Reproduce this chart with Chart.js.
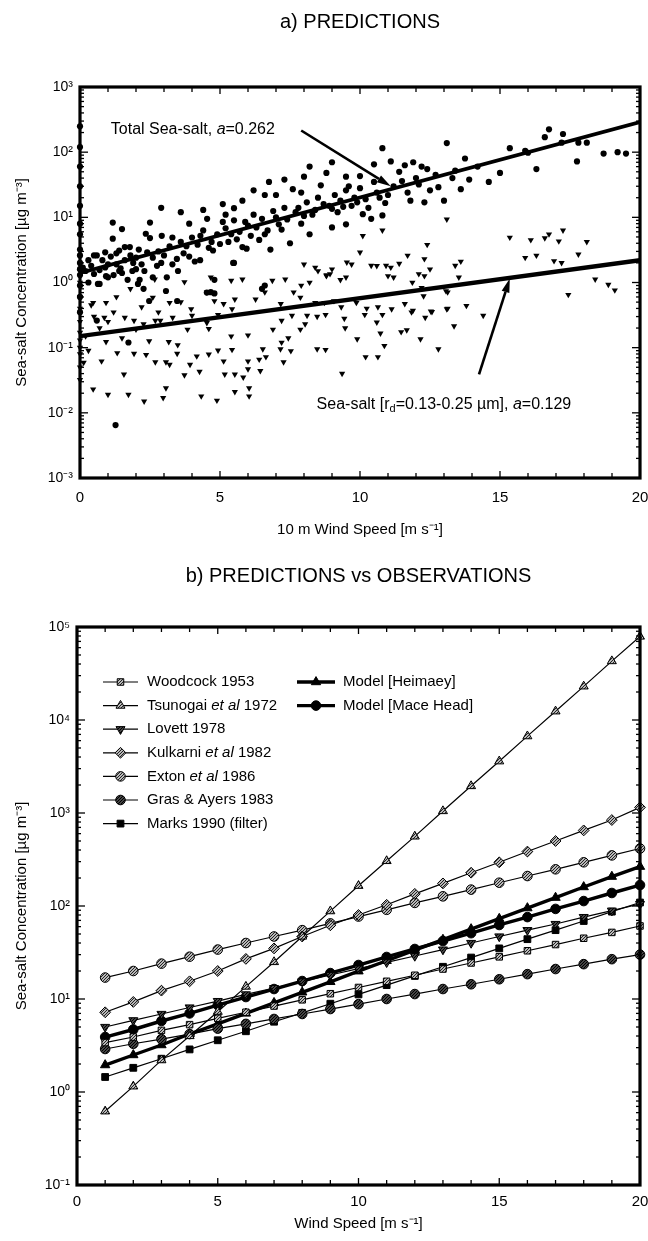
<!DOCTYPE html>
<html><head><meta charset="utf-8">
<script src="https://cdn.jsdelivr.net/npm/chart.js@4/dist/chart.umd.min.js"></script>
<style>
html,body{margin:0;padding:0;background:#fff;}
#wrap{position:relative;width:648px;height:1241px;overflow:hidden;}
.pane{position:absolute;left:0;width:648px;}
</style></head><body>
<div id="wrap">
<div class="pane" style="top:0;height:555px"><canvas id="ca" width="648" height="555"></canvas></div>
<div class="pane" style="top:555px;height:686px"><canvas id="cb" width="648" height="686"></canvas></div>
</div>
<script>
// ---------------- DATA: panel a ----------------
const xTicksA = [0, 5, 10, 15, 20];
const yTicksA = [1e-3, 1e-2, 1e-1, 1, 10, 100, 1000];
const yLabelsA = ['10⁻³', '10⁻²', '10⁻¹', '10⁰', '10¹', '10²', '10³'];
// observed total sea-salt [wind speed, concentration]
const totalObs = [
[0,1.3],[0,2.0],[0,2.6],[0,3.2],[0,0.9],[0,5.5],[0,8],[0,15],[0,30],[0,60],[0,120],[0,250],[0,0.6],[0,1.6],[0,0.35],
[0.1,1.7],[0.2,1.5],[0.3,2.2],[0.4,1.8],[0.5,2.6],[0.6,2.6],[0.7,0.95],[0.8,2.2],[0.9,1.7],[1.0,1.2],[1.1,2.5],[1.17,8.3],[1.17,4.7],
[1.3,1.9],[1.4,3.1],[1.5,6.6],[1.5,1.4],[1.6,2.2],[1.7,1.1],[1.78,3.5],[1.9,2.0],[2.0,1.6],[2.07,0.95],[2.1,3.2],[2.2,1.9],[2.35,5.6],
[2.5,8.3],[2.5,4.8],[2.6,2.4],[2.75,1.8],[2.8,3.0],[2.92,5.2],[3.0,2.6],[3.1,1.2],[3.3,4.9],[3.46,2.3],[3.5,1.5],[3.6,12],[3.7,2.8],
[3.8,3.6],[4.0,4.9],[4.1,2.1],[4.29,2.2],[4.4,6.3],[4.54,9.5],[4.6,3.4],[4.75,3.1],[4.8,1.1],[4.9,5.5],[5.1,16],[5.1,8.5],[5.2,11],
[5.3,4.2],[5.5,13.8],[5.5,9],[5.5,2.0],[5.7,6],[5.8,3.5],[5.95,3.3],[6.0,7.5],[6.2,26],[6.2,11],[6.4,4.5],[6.6,5.5],[6.75,35],
[6.8,3.2],[7.0,22],[7.0,10],[7.2,6.5],[7.3,14],[7.5,4.0],[7.6,27],[7.7,12],[7.9,24],[7.9,8],[8.1,17],[8.2,5.5],[8.3,11],[8.5,20],
[8.6,31],[8.8,48],[8.9,15],[9.0,7],[9.1,22],[9.2,12],[9.3,18],[9.5,42],[9.5,7.8],[9.5,26],[9.7,15],[9.8,20],[10.0,43],[10.0,28],
[10.1,11.2],[10.2,19],[10.4,9.5],[10.5,35],[10.6,24],[10.8,115],[10.8,10.7],[10.9,16.6],[11.1,72],[11.2,30],[11.4,50],[11.6,63],
[11.7,24],[11.8,18],[12.0,40],[12.3,17],[12.4,55],[12.5,26],[12.8,29],[13.0,18],[13.1,138],[13.4,52],[13.6,27],[13.75,80],[13.9,38],
[14.6,35],[15.35,115],[15.9,105],[16.0,98],[16.3,55],[16.6,170],[16.75,224],[17.2,140],[17.25,190],[17.75,72],[17.8,140],[18.1,140],
[18.7,95],[19.2,100],[19.5,95],
[0.6,0.26],[1.27,0.0065],[1.73,0.12],[3.07,0.74],[3.47,0.52],[2.47,0.52],[1.87,1.5],[2.13,1.1],[0.93,1.25],[0.64,0.95],[1.4,1.5],
[2.27,0.8],[4.53,0.7],[4.67,0.71],[4.8,0.68],[6.5,0.8],[6.6,0.9],[5.47,2.0],
[0.3,1.0],[0.5,1.35],[0.7,1.55],[0.9,2.9],[1.0,1.9],[1.2,1.3],[1.3,2.8],[1.45,1.65],[1.6,3.5],[1.8,2.6],[2.0,2.4],[2.3,1.5],[2.4,2.9],
[2.6,1.2],[2.9,2.0],[3.2,3.6],[3.3,1.9],[3.6,4.2],[3.9,2.5],[4.2,3.8],[4.3,5.2],[4.7,4.2],[5.0,3.9],[5.2,6.8],[5.4,5.5],[5.6,4.6],
[5.9,8.5],[6.1,5.2],[6.3,7.0],[6.5,9.5],[6.7,6.3],[6.9,12.5],[7.1,7.8],[7.4,9.3],[7.8,14],[8.0,10.5],[8.4,13],[8.7,16],[9.0,13.5],
[9.4,14.5],[9.6,30],[9.9,17],[10.3,14],[10.7,20],[11.0,22],[11.5,36],[12.1,32],[12.7,45],[13.3,40],[14.2,60],[15.0,48],
[3.9,8.0],[4.4,13.0],[2.9,14],[5.8,18],[6.6,22],[7.3,38],[8.0,42],[8.2,60],[9.0,70],[10.5,65],[11.9,70],[12.2,60]
];
// observed sea-salt r_d = 0.13-0.25 um [wind speed, concentration]
const fineObs = [
[0,0.05],[0,0.08],[0,0.1],[0,0.13],[0,0.17],[0,0.25],[0,0.4],[0,0.6],[0,1.0],[0,1.5],[0,0.032],
[0.2,0.15],[0.3,0.09],[0.4,0.45],[0.5,0.3],[0.7,0.2],[1.0,0.25],[1.5,0.14],[2.0,0.19],[2.2,0.42],[1.3,0.6],[1.8,0.8],[2.8,0.35],
[0.47,0.023],[1.0,0.019],[1.73,0.019],[2.29,0.015],[2.97,0.017],[3.07,0.024],[4.33,0.018],[4.89,0.0155],[5.53,0.021],[6.04,0.024],
[6.04,0.018],[1.57,0.039],[3.73,0.038],[4.27,0.043],[5.17,0.039],[5.53,0.039],[5.83,0.035],[6.0,0.047],[6.44,0.044],[9.36,0.04],
[0.13,0.059],[0.77,0.062],[1.33,0.083],[1.93,0.081],[2.36,0.078],[2.69,0.06],[3.07,0.06],[3.2,0.055],[3.47,0.081],[3.93,0.055],
[4.17,0.074],[4.6,0.079],[4.93,0.091],[5.13,0.062],[5.43,0.093],[6.0,0.062],[6.4,0.066],[6.64,0.072],[7.27,0.06],[7.53,0.089],
[7.16,0.095],[8.47,0.095],[8.77,0.093],[10.2,0.072],[10.64,0.072],[10.87,0.107],[12.8,0.095],[12.16,0.135],[0.93,0.123],[2.47,0.126],
[3.17,0.123],[3.49,0.11],[3.84,0.19],[4.6,0.195],[5.4,0.15],[6.0,0.155],[6.53,0.095],[6.89,0.19],[7.2,0.12],[7.44,0.14],[7.87,0.19],
[8.04,0.23],[9.9,0.135],[10.73,0.166],[11.47,0.174],[11.67,0.186],[13.36,0.214],[1.6,0.29],[1.93,0.26],[2.27,0.23],[2.69,0.26],
[2.87,0.26],[3.31,0.29],[4.0,0.31],[4.53,0.24],[4.93,0.32],[5.43,0.39],[7.2,0.26],[7.57,0.31],[8.11,0.31],[8.47,0.30],[8.77,0.32],
[9.44,0.28],[9.47,0.2],[10.17,0.32],[10.6,0.245],[10.8,0.32],[11.84,0.35],[12.33,0.29],[12.57,0.355],[13.13,0.4],[13.8,0.44],
[14.4,0.31],[17.44,0.65],[18.4,1.12],[18.87,0.93],[19.1,0.76],[0.47,0.49],[0.93,0.49],[0.87,0.29],[1.2,0.35],[2.6,0.59],[3.2,0.49],
[3.6,0.5],[3.97,0.39],[4.53,0.71],[4.8,0.52],[5.13,0.47],[5.53,0.55],[6.27,0.55],[6.6,0.71],[7.17,0.47],[7.63,0.71],[7.87,0.59],
[8.4,0.49],[8.73,0.49],[9.07,0.52],[9.33,0.42],[9.87,0.49],[10.24,0.4],[10.64,0.42],[11.13,0.39],[11.6,0.47],[11.89,0.37],[12.53,0.36],
[13.1,0.39],[12.27,0.62],[13.13,0.71],[2.67,1.12],[3.73,1.02],[4.67,1.2],[5.4,1.07],[5.8,1.12],[6.87,1.07],[7.33,1.12],[8.0,1.9],
[8.4,1.7],[8.8,1.26],[8.93,1.35],[9.53,2.04],[10.4,1.82],[10.93,1.82],[11.0,1.26],[12.1,1.35],[11.87,1.0],[12.2,0.83],[13.07,0.74],
[13.4,1.82],[13.53,1.2],[16.93,2.14],
[13.1,9.3],[15.35,4.9],[16.1,4.5],[16.6,4.8],[16.75,5.5],[17.25,6.3],[17.1,4.3],[18.1,4.2],[17.8,2.7],[15.9,2.4],[16.3,2.6],[17.2,2.0],
[10.1,5.2],[10.8,6.3],[12.4,3.8],[11.7,2.6],[12.3,2.3],[13.6,2.1],[10.0,2.9],[9.7,1.9],[10.6,1.8],[11.1,1.7],[11.4,1.95],[12.5,1.6],
[9.5,1.2],[11.2,1.2],[12.3,1.26],[8.5,1.5],[8.8,1.3],[9.0,1.6],[9.3,1.1],[7.9,0.9],[8.2,1.0]
];
// fitted lines (end points)
const totalFitU = [0, 20];
const totalFitC = [1.4, 290];
const fineFitU = [0, 20];
const fineFitC = [0.15, 2.2];

// ---------------- DATA: panel b ----------------
const xTicksB = [0, 5, 10, 15, 20];
const yTicksB = [1e-1, 1, 10, 100, 1e3, 1e4, 1e5];
const yLabelsB = ['10⁻¹', '10⁰', '10¹', '10²', '10³', '10⁴', '10⁵'];
const windSpeed = [1,2,3,4,5,6,7,8,9,10,11,12,13,14,15,16,17,18,19,20];
const woodcock = [3.4,3.9,4.6,5.3,6.2,7.2,8.4,9.8,11.4,13.3,15.5,18,21,24.4,28.4,33,38.5,45,52,61];
const tsunogai = [0.62,1.15,2.2,4.0,7.3,13.6,25,47,88,165,305,560,1050,1950,3600,6700,12400,23000,43000,79000];
const lovett = [5.0,5.9,6.9,8.1,9.5,11.2,13.1,15.4,18.1,21.2,24.8,29,34,40,47,55,64,76,89,105];
const kulkarni = [7.2,9.3,12.3,15.5,20,27,35,47,62,80,103,135,175,228,295,385,500,650,840,1150];
const exton = [17,20,24,28.5,34,40,47,55,65,77,91,108,127,150,178,210,248,295,350,415];
const grasAyers = [2.9,3.3,3.7,4.2,4.8,5.4,6.1,6.9,7.8,8.8,10,11.3,12.8,14.4,16.3,18.5,21,23.7,26.8,30];
const marks = [1.45,1.82,2.28,2.87,3.6,4.5,5.7,7.1,8.9,11.2,14.1,17.7,22.2,27.9,35,44,55,69,87,109];
const modelHeimaey = [1.95,2.5,3.2,4.2,5.4,7.0,9.1,11.8,15.3,19.9,25.8,33.5,43.5,56.5,73,95,123,160,207,265];
const modelMaceHead = [3.9,4.7,5.8,7.0,8.6,10.5,12.8,15.6,19.0,23.2,28.3,34.5,42,51,62.5,76,93,113,138,168];
const seriesNamesB = ['Woodcock 1953','Tsunogai et al 1972','Lovett 1978','Kulkarni et al 1982','Exton et al 1986',
  'Gras & Ayers 1983','Marks 1990 (filter)','Model [Heimaey]','Model [Mace Head]'];

// ---------------- helpers ----------------
const FONT = "'Liberation Sans', Arial, Helvetica, sans-serif";
Chart.defaults.font.family = FONT;
Chart.defaults.color = '#000';

function makePattern(ctx, dark) {
  const c = document.createElement('canvas'); c.width = 3; c.height = 3;
  const g = c.getContext('2d');
  g.fillStyle = dark ? '#444' : '#b8b8b8'; g.fillRect(0, 0, 3, 3);
  g.fillStyle = dark ? '#000' : '#222';
  g.fillRect(0, 0, 1, 1); g.fillRect(2, 1, 1, 1); g.fillRect(1, 2, 1, 1);
  return ctx.createPattern(c, 'repeat');
}

function line(ctx, x1, y1, x2, y2) { ctx.beginPath(); ctx.moveTo(x1, y1); ctx.lineTo(x2, y2); ctx.stroke(); }

function arrow(ctx, x1, y1, x2, y2, lw, hl, hw) {
  const a = Math.atan2(y2 - y1, x2 - x1);
  const bx = x2 - hl * Math.cos(a), by = y2 - hl * Math.sin(a);
  ctx.lineWidth = lw; line(ctx, x1, y1, bx, by);
  ctx.beginPath(); ctx.moveTo(x2, y2);
  ctx.lineTo(bx + hw * Math.sin(a), by - hw * Math.cos(a));
  ctx.lineTo(bx - hw * Math.sin(a), by + hw * Math.cos(a));
  ctx.closePath(); ctx.fill();
}

function richText(ctx, parts, x, y) {
  let cx = x;
  for (const p of parts) {
    ctx.font = p.font; ctx.fillText(p.t, cx, y + (p.dy || 0));
    cx += ctx.measureText(p.t).width;
  }
}

function fitX(h) { return s => { s.height = h; s.paddingLeft = 0; s.paddingRight = 0; }; }
function fitY(w) { return s => { s.width = w; s.paddingTop = 0; s.paddingBottom = 0; }; }

const framePlugin = {
  id: 'frame',
  afterDatasetsDraw(chart, args, opts) {
    const { ctx, chartArea: { left, right, top, bottom } } = chart;
    const xs = chart.scales.x, ys = chart.scales.y;
    ctx.save();
    ctx.strokeStyle = '#000'; ctx.lineWidth = 1.3;
    for (let u = xs.min; u <= xs.max; u++) {
      const px = xs.getPixelForValue(u);
      const len = (u % 5 === 0) ? 7 : 5;
      line(ctx, px, bottom, px, bottom - len);
      line(ctx, px, top, px, top + len);
    }
    const e0 = Math.round(Math.log10(ys.min)), e1 = Math.round(Math.log10(ys.max));
    for (let e = e0; e < e1; e++) {
      for (let m = 1; m <= 9; m++) {
        const py = ys.getPixelForValue(m * Math.pow(10, e));
        const len = m === 1 ? 8 : 4;
        line(ctx, left, py, left + len, py);
        line(ctx, right, py, right - len, py);
      }
    }
    ctx.lineWidth = 3.2;
    ctx.strokeRect(left, top, right - left, bottom - top);
    // panel title
    ctx.fillStyle = '#000';
    ctx.font = '20px ' + FONT; ctx.textAlign = 'center'; ctx.textBaseline = 'middle';
    ctx.fillText(opts.title, (left + right) / 2, opts.titleY);
    ctx.restore();
  }
};

// ---------------- panel a ----------------
const annotA = {
  id: 'annotA',
  afterDatasetsDraw(chart) {
    const { ctx } = chart; const xs = chart.scales.x, ys = chart.scales.y;
    const P = (u, c) => [xs.getPixelForValue(u), ys.getPixelForValue(c)];
    ctx.save(); ctx.fillStyle = '#000'; ctx.strokeStyle = '#000';
    ctx.textBaseline = 'middle'; ctx.textAlign = 'left';
    let p = P(1.1, 225);
    richText(ctx, [{ t: 'Total Sea-salt, ', font: '16px ' + FONT }, { t: 'a', font: 'italic 16px ' + FONT }, { t: '=0.262', font: '16px ' + FONT }], p[0], p[1]);
    let a1 = P(7.9, 215), a2 = P(11.1, 30);
    arrow(ctx, a1[0], a1[1], a2[0], a2[1], 2.6, 14, 4);
    p = P(8.45, 0.0135);
    richText(ctx, [{ t: 'Sea-salt [r', font: '16px ' + FONT }, { t: 'd', font: '11px ' + FONT, dy: 5 },
      { t: '=0.13-0.25 µm], ', font: '16px ' + FONT }, { t: 'a', font: 'italic 16px ' + FONT }, { t: '=0.129', font: '16px ' + FONT }], p[0], p[1]);
    a1 = P(14.25, 0.039); a2 = P(15.35, 1.15);
    arrow(ctx, a1[0], a1[1], a2[0], a2[1], 2.6, 14, 4);
    ctx.restore();
  }
};

new Chart(document.getElementById('ca'), {
  type: 'scatter',
  data: {
    datasets: [
      { label: 'Total fit', data: totalFitU.map((u, i) => ({ x: u, y: totalFitC[i] })), showLine: true, borderColor: '#000', borderWidth: 3.6, pointRadius: 0 },
      { label: 'Fine fit', data: fineFitU.map((u, i) => ({ x: u, y: fineFitC[i] })), showLine: true, borderColor: '#000', borderWidth: 4.4, pointRadius: 0 },
      { label: 'Total Sea-salt', data: totalObs.map(d => ({ x: d[0], y: d[1] })), pointStyle: 'circle', pointRadius: 3.1, backgroundColor: '#000', borderColor: '#000', borderWidth: 0, clip: false },
      { label: 'Sea-salt 0.13-0.25', data: fineObs.map(d => ({ x: d[0], y: d[1] })), pointStyle: 'triangle', rotation: 180, pointRadius: 3.6, backgroundColor: '#000', borderColor: '#000', borderWidth: 0, clip: false }
    ]
  },
  options: {
    responsive: false, animation: false, devicePixelRatio: 1,
    layout: { autoPadding: false, padding: { top: 87, right: 8, left: 0, bottom: 0 } },
    plugins: { legend: { display: false }, tooltip: { enabled: false }, frame: { title: 'a) PREDICTIONS', titleY: 22 } },
    scales: {
      x: {
        type: 'linear', min: 0, max: 20,
        afterBuildTicks: s => { s.ticks = xTicksA.map(v => ({ value: v })); },
        afterFit: fitX(77),
        grid: { display: false, drawTicks: false }, border: { display: false },
        ticks: { font: { size: 15 }, padding: 11, maxRotation: 0 },
        title: { display: true, text: '10 m Wind Speed [m s⁻¹]', font: { size: 15 }, padding: { top: 0, bottom: 16 } }
      },
      y: {
        type: 'logarithmic', min: 1e-3, max: 1e3,
        afterBuildTicks: s => { s.ticks = yTicksA.map(v => ({ value: v })); },
        afterFit: fitY(80),
        grid: { display: false, drawTicks: false }, border: { display: false },
        ticks: { font: { size: 14 }, padding: 7, callback: (v, i) => yLabelsA[i] },
        title: { display: true, text: 'Sea-salt Concentration [µg m⁻³]', font: { size: 15 }, padding: { top: 13, bottom: 0 } }
      }
    }
  },
  plugins: [framePlugin, annotA]
});

// ---------------- panel b ----------------
const ctxB = document.getElementById('cb').getContext('2d');
const hatch = makePattern(ctxB, false);
const hatchDark = makePattern(ctxB, true);
const seriesB = [
  { v: woodcock, style: 'rect', rot: 0, r: 4.6, fill: hatch, lw: 1.2 },
  { v: tsunogai, style: 'triangle', rot: 0, r: 5.2, fill: hatch, lw: 1.2 },
  { v: lovett, style: 'triangle', rot: 180, r: 5.2, fill: hatchDark, lw: 1.2 },
  { v: kulkarni, style: 'rectRot', rot: 0, r: 5.4, fill: hatch, lw: 1.2 },
  { v: exton, style: 'circle', rot: 0, r: 4.8, fill: hatch, lw: 1.2 },
  { v: grasAyers, style: 'circle', rot: 0, r: 4.8, fill: hatchDark, lw: 1.2 },
  { v: marks, style: 'rect', rot: 0, r: 4.8, fill: '#000', lw: 1.2 },
  { v: modelHeimaey, style: 'triangle', rot: 0, r: 5.4, fill: '#000', lw: 3.4 },
  { v: modelMaceHead, style: 'circle', rot: 0, r: 4.8, fill: '#000', lw: 3.4 }
];

const legendB = {
  id: 'legendB',
  afterDatasetsDraw(chart) {
    const { ctx, chartArea: { left, top } } = chart;
    ctx.save();
    ctx.textBaseline = 'middle'; ctx.textAlign = 'left';
    chart.data.datasets.forEach((ds, i) => {
      const col = i < 7 ? 0 : 1, row = i < 7 ? i : i - 7;
      const y = top + 55 + row * 23.6;
      const x0 = left + (col ? 220 : 26), x1 = left + (col ? 258 : 61), xm = (x0 + x1) / 2, xt = left + (col ? 266 : 70);
      ctx.strokeStyle = '#000'; ctx.lineWidth = ds.borderWidth;
      line(ctx, x0, y, x1, y);
      ctx.fillStyle = ds.pointBackgroundColor; ctx.lineWidth = 1;
      Chart.helpers.drawPoint(ctx, { pointStyle: ds.pointStyle, rotation: ds.pointRotation, radius: ds.pointRadius, borderWidth: 1 }, xm, y);
      ctx.fillStyle = '#000';
      const name = seriesNamesB[i];
      const m = name.match(/^(.*?)(et al)(.*)$/);
      if (m) {
        richText(ctx, [{ t: m[1], font: '15px ' + FONT }, { t: m[2], font: 'italic 15px ' + FONT }, { t: m[3], font: '15px ' + FONT }], xt, y);
      } else {
        ctx.font = '15px ' + FONT; ctx.fillText(name, xt, y);
      }
    });
    ctx.restore();
  }
};

new Chart(ctxB, {
  type: 'line',
  data: {
    datasets: seriesB.map((s, i) => ({
      label: seriesNamesB[i],
      data: windSpeed.map((u, k) => ({ x: u, y: s.v[k] })),
      borderColor: '#000', borderWidth: s.lw, tension: 0,
      pointStyle: s.style, pointRotation: s.rot, pointRadius: s.r,
      pointBackgroundColor: s.fill, pointBorderColor: '#000', pointBorderWidth: 1, clip: false
    }))
  },
  options: {
    responsive: false, animation: false, devicePixelRatio: 1,
    layout: { autoPadding: false, padding: { top: 72, right: 8, left: 0, bottom: 0 } },
    plugins: { legend: { display: false }, tooltip: { enabled: false }, frame: { title: 'b) PREDICTIONS vs OBSERVATIONS', titleY: 21 } },
    scales: {
      x: {
        type: 'linear', min: 0, max: 20,
        afterBuildTicks: s => { s.ticks = xTicksB.map(v => ({ value: v })); },
        afterFit: fitX(56),
        grid: { display: false, drawTicks: false }, border: { display: false },
        ticks: { font: { size: 15 }, padding: 8, maxRotation: 0 },
        title: { display: true, text: 'Wind Speed [m s⁻¹]', font: { size: 15 }, padding: { top: 0, bottom: 8 } }
      },
      y: {
        type: 'logarithmic', min: 1e-1, max: 1e5,
        afterBuildTicks: s => { s.ticks = yTicksB.map(v => ({ value: v })); },
        afterFit: fitY(77),
        grid: { display: false, drawTicks: false }, border: { display: false },
        ticks: { font: { size: 14 }, padding: 7, callback: (v, i) => yLabelsB[i] },
        title: { display: true, text: 'Sea-salt Concentration [µg m⁻³]', font: { size: 15 }, padding: { top: 13, bottom: 0 } }
      }
    }
  },
  plugins: [framePlugin, legendB]
});
</script>
</body></html>
